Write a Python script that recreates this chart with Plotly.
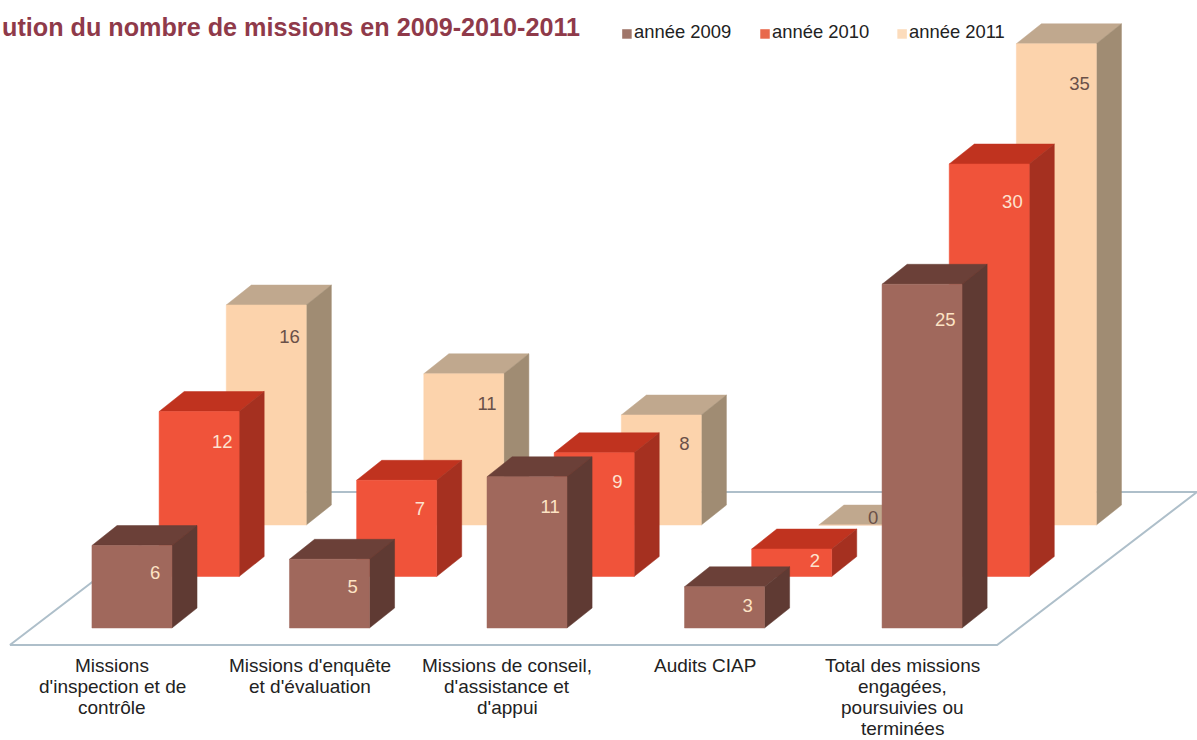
import plotly.graph_objects as go

categories = [["Missions", "d'inspection et de", "contrôle"],
              ["Missions d'enquête", "et d'évaluation"],
              ["Missions de conseil,", "d'assistance et", "d'appui"],
              ["Audits CIAP"],
              ["Total des missions", "engagées,", "poursuivies ou", "terminées"]]

years = ["année 2009", "année 2010", "année 2011"]
values_2009 = [6, 5, 11, 3, 25]
values_2010 = [12, 7, 9, 2, 30]
values_2011 = [16, 11, 8, 0, 35]

front_colors = ["#a0685c", "#f0533a", "#fcd3ac"]
side_colors = ["#5f3a33", "#a53020", "#a08c73"]
top_colors = ["#6b4038", "#c0331f", "#c0a88e"]
legend_colors = ["#a0766a", "#e8694c", "#fcdcbc"]
label_colors = ["#fde3c4", "#fde3d0", "#6a5048"]

# oblique projection, in axis units (1 x unit = one category, 1 y unit = one mission)
BAR_W = 0.405
ROW_DX = 0.34
ROW_DY = 3.745
DEPTH_DX = 0.127
DEPTH_DY = 1.45

fig = go.Figure()

# floor
floor_x = [-0.618, 4.38, 5.392, 0.395, -0.618]
floor_y = [-1.236, -1.236, 9.89, 9.89, -1.236]
fig.add_trace(go.Scatter(x=floor_x, y=floor_y, mode="lines", fill="toself", fillcolor="#ffffff",
                         line=dict(color="#aebfca", width=2), hoverinfo="skip"))


def add_face(xs, ys, color):
    fig.add_trace(go.Scatter(x=xs, y=ys, mode="lines", fill="toself", fillcolor=color,
                             line=dict(color=color, width=0.5), hoverinfo="skip"))


series = [values_2009, values_2010, values_2011]
label_x, label_y, label_txt, label_col = [], [], [], []

# back row first so the front row covers it
for row in [2, 1, 0]:
    fx, fy, sx, sy, tx, ty = [], [], [], [], [], []
    for i, v in enumerate(series[row]):
        x0 = i - BAR_W / 2 + row * ROW_DX
        x1 = x0 + BAR_W
        y0 = row * ROW_DY
        y1 = y0 + v
        fx += [x0, x1, x1, x0, x0, None]
        fy += [y0, y0, y1, y1, y0, None]
        sx += [x1, x1 + DEPTH_DX, x1 + DEPTH_DX, x1, x1, None]
        sy += [y0, y0 + DEPTH_DY, y1 + DEPTH_DY, y1, y0, None]
        tx += [x0, x1, x1 + DEPTH_DX, x0 + DEPTH_DX, x0, None]
        ty += [y1, y1, y1 + DEPTH_DY, y1 + DEPTH_DY, y1, None]
        label_x.append(x1 - 0.085 - (0.045 if v == 0 else 0))
        label_y.append(y1 - min(v * 0.5, 1.95 + 0.03 * v) + (0.4 if v == 0 else 0))
        label_txt.append(str(v))
        label_col.append(label_colors[row])
    add_face(tx, ty, top_colors[row])
    add_face(sx, sy, side_colors[row])
    add_face(fx, fy, front_colors[row])

# value labels
fig.add_trace(go.Scatter(x=label_x, y=label_y, mode="text", text=label_txt,
                         textposition="middle center",
                         textfont=dict(size=18.5, color=label_col, family="Liberation Sans"),
                         hoverinfo="skip"))

# legend, drawn by hand because the native one can't get the square this close to the text
legend_x = [2.506, 3.205, 3.899]
for k in range(3):
    fig.add_trace(go.Scatter(x=[legend_x[k]], y=[43.2], mode="markers",
                             marker=dict(symbol="square", size=9.5, color=legend_colors[k]),
                             hoverinfo="skip"))
    fig.add_annotation(x=legend_x[k] + 0.025, y=43.35, text=years[k], showarrow=False,
                       xanchor="left", yanchor="middle",
                       font=dict(size=18.4, color="#222222", family="Liberation Sans"))

# category labels, one annotation per line since plotly's line height is too loose here
for i, lines in enumerate(categories):
    for j, line in enumerate(lines):
        fig.add_annotation(x=i - 0.1, y=-2.76 - j * 1.527, text=line, showarrow=False,
                           xanchor="center", yanchor="middle",
                           font=dict(size=19, color="#222222", family="Liberation Sans"))

fig.add_annotation(x=582 / 1197, y=1 - 27 / 740, xref="paper", yref="paper",
                   text="<b>ution du nombre de missions en 2009-2010-2011</b>", showarrow=False,
                   xanchor="right", yanchor="middle",
                   font=dict(size=25.2, color="#8f3a4a", family="Liberation Sans"))

fig.update_xaxes(range=[-0.668, 5.392], visible=False)
fig.update_yaxes(range=[-8.145, 45.67], visible=False)
fig.update_layout(width=1197, height=740, margin=dict(l=0, r=0, t=0, b=0), showlegend=False,
                  paper_bgcolor="white", plot_bgcolor="white")
fig.write_html("out.html", config={"displayModeBar": False},
               post_script="document.body.style.margin='0';")
